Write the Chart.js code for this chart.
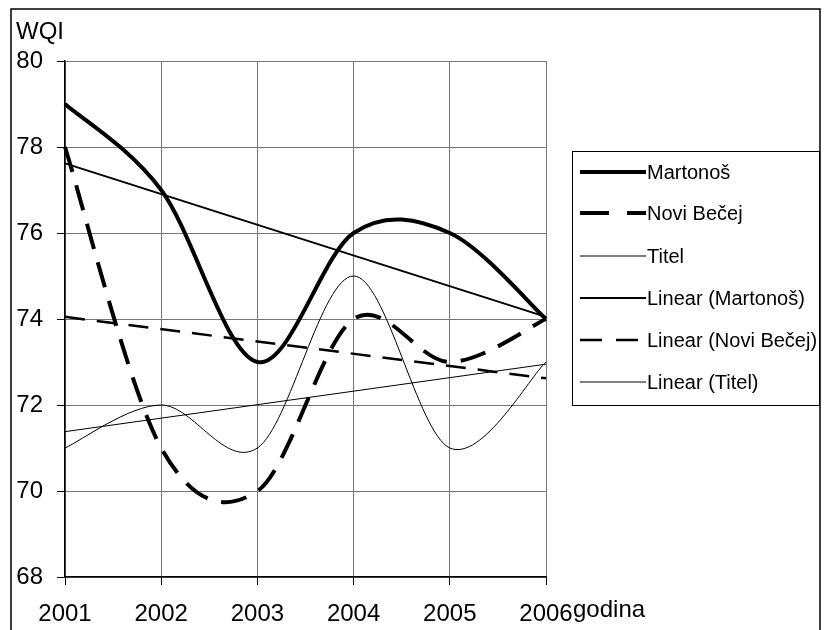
<!DOCTYPE html>
<html>
<head>
<meta charset="utf-8">
<script src="https://cdn.jsdelivr.net/npm/chart.js@4.4.1/dist/chart.umd.min.js"></script>
<style>
  html, body { margin: 0; padding: 0; background: #fff; }
  #wrap { width: 824px; height: 630px; }
</style>
</head>
<body>
<div id="wrap"><canvas id="chart" width="824" height="630"></canvas></div>
<script>
// values
const years = ['2001', '2002', '2003', '2004', '2005', '2006'];
const martonos = [79, 77, 73, 76, 76, 74];
const noviBecej = [78, 71, 70, 74, 73, 74];
const titel = [71, 72, 71, 75, 71, 73];
// linear trend end points (first and last year)
const trendMartonos = [77.62, null, null, null, null, 74.05];
const trendNoviBecej = [74.05, null, null, null, null, 72.62];
const trendTitel = [71.38, null, null, null, null, 72.95];
const yTicks = [68, 70, 72, 74, 76, 78, 80];

const FONT = "'Liberation Sans', Arial, sans-serif";

// Excel-like smoothing (Catmull-Rom, 1/6 of neighbour span)
const excelSmooth = {
  id: 'excelSmooth',
  beforeDatasetsDraw(chart) {
    chart.data.datasets.forEach((ds, i) => {
      if (!ds.smooth) return;
      const meta = chart.getDatasetMeta(i);
      const pts = meta.data;
      for (let k = 0; k < pts.length; k++) {
        const p = pts[k];
        const prev = pts[k - 1] || p;
        const next = pts[k + 1] || p;
        const dx = (next.x - prev.x) / 6;
        const dy = (next.y - prev.y) / 6;
        p.cp1x = p.x - dx; p.cp1y = p.y - dy;
        p.cp2x = p.x + dx; p.cp2y = p.y + dy;
      }
      meta.dataset._pointsUpdated = true;
      delete meta.dataset._path;
    });
  }
};

// frame, axis titles and the boxed legend
const decor = {
  id: 'decor',
  afterDraw(chart) {
    const ctx = chart.ctx;
    ctx.save();
    ctx.strokeStyle = '#000';
    ctx.lineWidth = 1.5;
    ctx.strokeRect(11, 9, 809, 700);

    ctx.fillStyle = '#000';
    ctx.font = '24px ' + FONT;
    ctx.textBaseline = 'alphabetic';
    ctx.textAlign = 'left';
    ctx.fillText('WQI', 16, 39);
    ctx.fillText('godina', 573, 617);

    // legend
    ctx.lineWidth = 1;
    ctx.strokeRect(572.5, 151.5, 247, 254);
    const rows = [172, 213, 256, 298, 340, 382];
    ctx.font = '20px ' + FONT;
    chart.data.datasets.forEach((ds, i) => {
      const y = rows[i];
      ctx.beginPath();
      ctx.setLineDash(ds.legendDash || ds.borderDash || []);
      ctx.lineWidth = ds.borderWidth;
      ctx.lineCap = 'butt';
      ctx.moveTo(580, y);
      ctx.lineTo(646, y);
      ctx.stroke();
      ctx.setLineDash([]);
      ctx.fillText(ds.label, 647, y + 7);
    });
    ctx.restore();
  }
};

new Chart(document.getElementById('chart'), {
  type: 'line',
  data: {
    labels: years,
    datasets: [
      { label: 'Martonoš', data: martonos, borderColor: '#000', borderWidth: 4, tension: 0.4, smooth: true },
      { label: 'Novi Bečej', data: noviBecej, borderColor: '#000', borderWidth: 4, borderDash: [26, 14], legendDash: [29, 18], tension: 0.4, smooth: true },
      { label: 'Titel', data: titel, borderColor: '#000', borderWidth: 1, tension: 0.4, smooth: true },
      { label: 'Linear (Martonoš)', data: trendMartonos, borderColor: '#000', borderWidth: 2, spanGaps: true },
      { label: 'Linear (Novi Bečej)', data: trendNoviBecej, borderColor: '#000', borderWidth: 2.5, borderDash: [20, 12], legendDash: [22, 14], spanGaps: true },
      { label: 'Linear (Titel)', data: trendTitel, borderColor: '#000', borderWidth: 1, spanGaps: true },
    ],
  },
  options: {
    responsive: false,
    animation: false,
    layout: { padding: { left: 0, right: 278, top: 61, bottom: 0 } },
    elements: { point: { radius: 0, hoverRadius: 0 } },
    plugins: { legend: { display: false }, tooltip: { enabled: false } },
    scales: {
      x: {
        offset: false,
        grid: { color: '#777', lineWidth: 1, tickLength: 8, tickColor: '#000' },
        border: { color: '#000', width: 1.5 },
        ticks: { color: '#000', font: { family: FONT, size: 24 }, padding: 15, maxRotation: 0, autoSkip: false },
        afterFit(scale) { scale.height = 53; },
      },
      y: {
        min: 68,
        max: 80,
        afterBuildTicks(scale) { scale.ticks = yTicks.map((v) => ({ value: v })); },
        grid: { color: '#777', lineWidth: 1, tickLength: 8, tickColor: '#000' },
        border: { color: '#000', width: 1.5 },
        ticks: { color: '#000', font: { family: FONT, size: 24 }, padding: 14 },
        afterFit(scale) { scale.width = 65; },
      },
    },
  },
  plugins: [excelSmooth, decor],
});
</script>
</body>
</html>
